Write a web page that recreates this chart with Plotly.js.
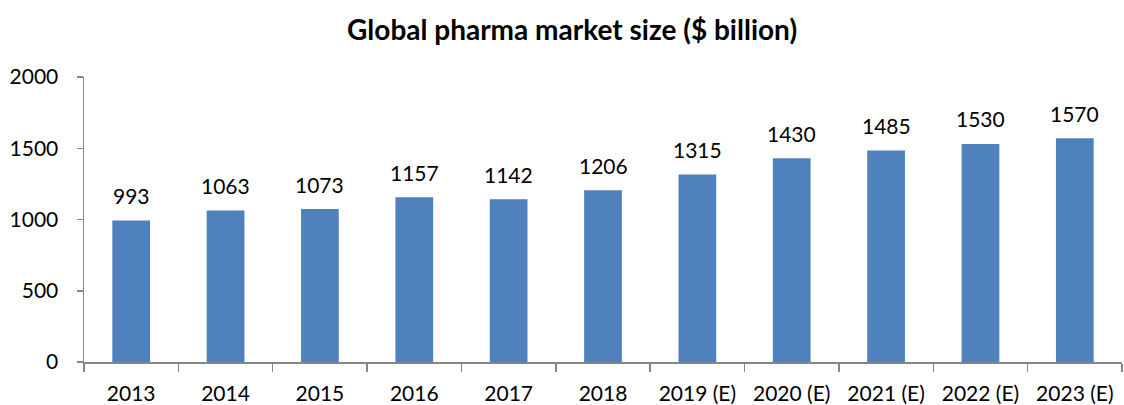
<!DOCTYPE html>
<html>
<head>
<meta charset="utf-8">
<script src="https://cdn.plot.ly/plotly-3.0.1.min.js"></script>
<style>
  html, body { margin: 0; padding: 0; background: #fff; }
  #chart { width: 1124px; height: 405px; }
</style>
</head>
<body>
<div id="chart"></div>
<script>
const years = ["2013", "2014", "2015", "2016", "2017", "2018",
  "2019 (E)", "2020 (E)", "2021 (E)", "2022 (E)", "2023 (E)"];
const marketSize = [993, 1063, 1073, 1157, 1142, 1206, 1315, 1430, 1485, 1530, 1570];
const yTicks = [0, 500, 1000, 1500, 2000];

const font = 'Lato, "Open Sans", sans-serif';
const axisGrey = "#868686";
const textSize = 21;

const trace = {
  type: "bar",
  x: years,
  y: marketSize,
  marker: { color: "#4f81bd" },
  hoverinfo: "x+y",
};

// value labels above each bar (x given as category index, "2013" would be read as index 2013)
const labels = years.map((yr, i) => ({
  x: i,
  y: marketSize[i],
  text: String(marketSize[i]),
  showarrow: false,
  yanchor: "middle",
  yshift: 25,
  font: { family: font, size: textSize, color: "#000" },
}));

const layout = {
  width: 1124,
  height: 405,
  margin: { l: 84, r: 2, t: 77, b: 43 },
  paper_bgcolor: "#fff",
  plot_bgcolor: "#fff",
  bargap: 0.6,
  showlegend: false,
  title: {
    text: "<b>Global pharma market size ($ billion)</b>",
    font: { family: font, size: 28, color: "#000" },
    x: 0.509,
    xanchor: "center",
    y: 0.926,
    yanchor: "middle",
  },
  xaxis: {
    type: "category",
    categoryarray: years,
    range: [-0.5, years.length - 0.5],
    showline: true,
    linecolor: axisGrey,
    linewidth: 1.5,
    ticks: "outside",
    tickson: "boundaries",
    ticklen: 8,
    tickcolor: axisGrey,
    tickwidth: 1.5,
    showgrid: false,
    tickangle: 0,
    tickfont: { family: font, size: textSize, color: "#000" },
    ticklabelstandoff: 12,
  },
  yaxis: {
    range: [0, 2000],
    tickvals: yTicks,
    showline: true,
    linecolor: axisGrey,
    linewidth: 1.5,
    ticks: "outside",
    ticklen: 6,
    tickcolor: axisGrey,
    tickwidth: 1.5,
    showgrid: false,
    zeroline: false,
    tickfont: { family: font, size: textSize, color: "#000" },
    ticklabelstandoff: 14,
  },
  annotations: labels,
};

Plotly.newPlot("chart", [trace], layout, { displayModeBar: false, staticPlot: true });
</script>
</body>
</html>
